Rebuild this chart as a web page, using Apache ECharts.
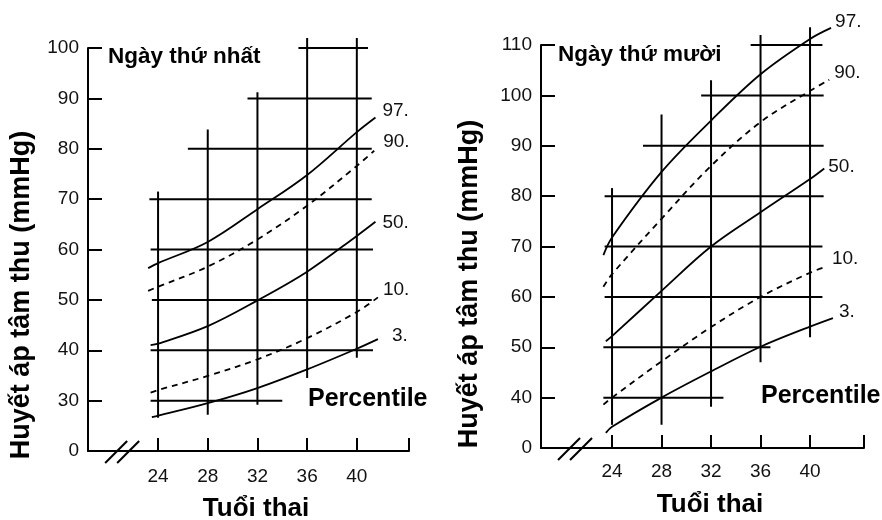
<!DOCTYPE html>
<html><head><meta charset="utf-8">
<script src="https://cdn.jsdelivr.net/npm/echarts@6/dist/echarts.min.js"></script>
<style>html,body{margin:0;padding:0;background:#fff}#c{width:882px;height:520px}</style>
</head><body><div id="c"></div>
<script>
// ---------- data ----------
const xTickLabels = [24, 28, 32, 36, 40];

// Panel 1: Ngày thứ nhất  (points: [tuần thai, mmHg])
const d1_p97 = [[23.2,56.3],[24,57.3],[28,61.5],[32,68],[36,74.8],[40,83.3],[41.5,86.2]];
const d1_p90 = [[23.2,51.8],[24,52.6],[28,56.6],[32,62],[36,68.7],[40,76.6],[41.4,79.6]];
const d1_p50 = [[23.4,41],[24,41.3],[28,44.8],[32,49.9],[36,55.6],[40,62.7],[41.5,65.5]];
const d1_p10 = [[23.4,31.6],[24,32.1],[28,34.9],[32,38.2],[36,42.4],[40,47.6],[41.7,50.5]];
const d1_p3  = [[23.5,26.7],[24,27],[28,29.5],[32,32.5],[36,36.2],[40,40.3],[41.7,42.2]];
const d1_yTicks = [30,40,50,60,70,80,90,100];
const d1_yZero = 20;   // position of the "0" label (axis break)
const d1_vGrid = [[24,26.6,71.5],[28,27.2,83.8],[32,29.2,91.2],[36,34.5,102],[40,38.5,102]];        // [week, from, to]
const d1_hGrid = [[100,35.3,40.9],[90,31.2,41.2],[80,26.4,41.2],[70,23.3,41.2],[60,23.4,41.3],[50,23.5,41.2],[40,23.4,41.3],[30,23.4,34.0]]; // [mmHg, from, to]

// Panel 2: Ngày thứ mười
const d10_p97 = [[23.3,68.3],[24,71.8],[28,84.8],[32,95],[36,104.2],[40,111.2],[41.7,113.4]];
const d10_p90 = [[23.3,62],[24,64.5],[28,75.5],[32,86],[36,94.7],[40,100.9],[41.55,103.1]];
const d10_p50 = [[23.5,51.2],[24,52.2],[28,61.2],[32,70],[36,76.8],[40,83.4],[41.15,85.5]];
const d10_p10 = [[23.3,38.6],[24,40],[28,47.2],[32,54],[36,60],[40,64.8],[41.2,65.9]];
const d10_p3  = [[23.5,33],[24,34.2],[28,40],[32,45.2],[36,50.1],[40,54.1],[41.85,55.8]];
const d10_yTicks = [40,50,60,70,80,90,100,110];
const d10_yZero = 30;
const d10_vGrid = [[24,34.6,81.6],[28,34.6,96.2],[32,38.2,103],[36,47,112],[40,52,113.5]];
const d10_hGrid = [[110,35.2,41.0],[100,31.2,41.1],[90,26.5,41.1],[80,23.4,41.1],[70,23.4,41.0],[60,23.4,41.0],[50,23.3,36.8],[40,23.3,33.0]];

const pctNames = ['97.','90.','50.','10.','3.'];

// ---------- chart ----------
const FONT = '"Liberation Sans", Arial, Helvetica, sans-serif';
const chart = echarts.init(document.getElementById('c'), null, {renderer:'canvas'});

const panels = [
  {grid:{left:88, top:48, width:321, height:403}, xmin:18.36, xmax:44.2, yZero:d1_yZero, ymax:100,
   yTicks:d1_yTicks, v:d1_vGrid, h:d1_hGrid, curves:[d1_p97,d1_p90,d1_p50,d1_p10,d1_p3], xMargin:16,
   offs:[[2,-7],[4,-9],[2,1],[0,-8],[9,-3]]},
  {grid:{left:541, top:45, width:323, height:403}, xmin:18.26, xmax:44.36, yZero:d10_yZero, ymax:110,
   yTicks:d10_yTicks, v:d10_vGrid, h:d10_hGrid, curves:[d10_p97,d10_p90,d10_p50,d10_p10,d10_p3], xMargin:14,
   offs:[[-1,-6],[0,-6.6],[-1,-2],[2,-8.5],[1,-6.5]]}
];

const grids = [], xAxes = [], yAxes = [], series = [];
panels.forEach((p, i) => {
  grids.push(p.grid);
  xAxes.push({
    type:'value', gridIndex:i, min:p.xmin, max:p.xmax,
    splitLine:{show:false},
    axisLine:{show:true, onZero:false, lineStyle:{color:'#000', width:2}},
    axisTick:{show:true, inside:true, length:13, lineStyle:{color:'#000', width:2},
              customValues: xTickLabels.concat([p.xmax])},
    axisLabel:{show:true, customValues: xTickLabels, margin:p.xMargin, fontSize:19, color:'#111', fontFamily:FONT}
  });
  yAxes.push({
    type:'value', gridIndex:i, min:p.yZero, max:p.ymax,
    splitLine:{show:false},
    axisLine:{show:true, onZero:false, lineStyle:{color:'#000', width:2}},
    axisTick:{show:true, inside:true, length:14, lineStyle:{color:'#000', width:2}, customValues:p.yTicks},
    axisLabel:{show:true, customValues:[p.yZero].concat(p.yTicks), margin:9, fontSize:19, color:'#111', fontFamily:FONT,
               formatter: v => (v === p.yZero ? '0' : String(v))}
  });
  // vertical grid segments
  series.push({
    type:'custom', xAxisIndex:i, yAxisIndex:i, data:p.v, silent:true, clip:false,
    encode:{x:0, y:[1,2]},
    renderItem:(params, api) => {
      const a = api.coord([api.value(0), api.value(1)]);
      const b = api.coord([api.value(0), api.value(2)]);
      return {type:'line', shape:{x1:a[0], y1:a[1], x2:b[0], y2:b[1]}, style:{stroke:'#000', lineWidth:2}};
    }
  });
  // horizontal grid segments
  series.push({
    type:'custom', xAxisIndex:i, yAxisIndex:i, data:p.h, silent:true, clip:false,
    encode:{y:0, x:[1,2]},
    renderItem:(params, api) => {
      const a = api.coord([api.value(1), api.value(0)]);
      const b = api.coord([api.value(2), api.value(0)]);
      return {type:'line', shape:{x1:a[0], y1:a[1], x2:b[0], y2:b[1]}, style:{stroke:'#000', lineWidth:2}};
    }
  });
  // axis break marks
  series.push({
    type:'custom', xAxisIndex:i, yAxisIndex:i, data:[[p.xmin + 2.75, p.yZero]], silent:true, clip:false,
    renderItem:(params, api) => {
      const c = api.coord([api.value(0), api.value(1)]);
      const mk = dx => ({type:'line', shape:{x1:c[0]+dx-11, y1:c[1]+12, x2:c[0]+dx+11, y2:c[1]-10},
                         style:{stroke:'#000', lineWidth:2}});
      return {type:'group', children:[mk(-6), mk(6)]};
    }
  });
  // percentile curves
  p.curves.forEach((d, k) => {
    const dashed = (k === 1 || k === 3);
    series.push({
      type:'line', xAxisIndex:i, yAxisIndex:i, data:d, smooth:0.35, symbol:'none', clip:false, silent:true,
      lineStyle:{color:'#000', width:1.8, type: dashed ? [6,5] : 'solid'},
      endLabel:{show:true, formatter:pctNames[k], distance:5, offset:p.offs[k], fontSize:19,
                color:'#111', fontFamily:FONT}
    });
  });
});

const txt = (x, y, s, size, extra) => Object.assign({
  type:'text', x:x, y:y,
  style:{text:s, fontSize:size, fontWeight:'bold', fontFamily:FONT, fill:'#000', align:'left', verticalAlign:'middle'}
}, extra || {});

chart.setOption({
  animation:false,
  backgroundColor:'#fff',
  grid:grids, xAxis:xAxes, yAxis:yAxes, series:series,
  graphic:[
    txt(108, 57, 'Ngày thứ nhất', 22.5),
    txt(558, 55, 'Ngày thứ mười', 22.5),
    txt(308, 399, 'Percentile', 25),
    txt(761, 396, 'Percentile', 25),
    {type:'text', x:256, y:509, style:{text:'Tuổi thai', fontSize:26, fontWeight:'bold', fontFamily:FONT, fill:'#000', align:'center', verticalAlign:'middle'}},
    {type:'text', x:710, y:505, style:{text:'Tuổi thai', fontSize:26, fontWeight:'bold', fontFamily:FONT, fill:'#000', align:'center', verticalAlign:'middle'}},
    {type:'text', x:22, y:295, rotation:Math.PI/2, style:{text:'Huyết áp tâm thu (mmHg)', fontSize:27, fontWeight:'bold', fontFamily:FONT, fill:'#000', align:'center', verticalAlign:'middle'}},
    {type:'text', x:470, y:284, rotation:Math.PI/2, style:{text:'Huyết áp tâm thu (mmHg)', fontSize:27, fontWeight:'bold', fontFamily:FONT, fill:'#000', align:'center', verticalAlign:'middle'}}
  ]
});
</script>
</body></html>
